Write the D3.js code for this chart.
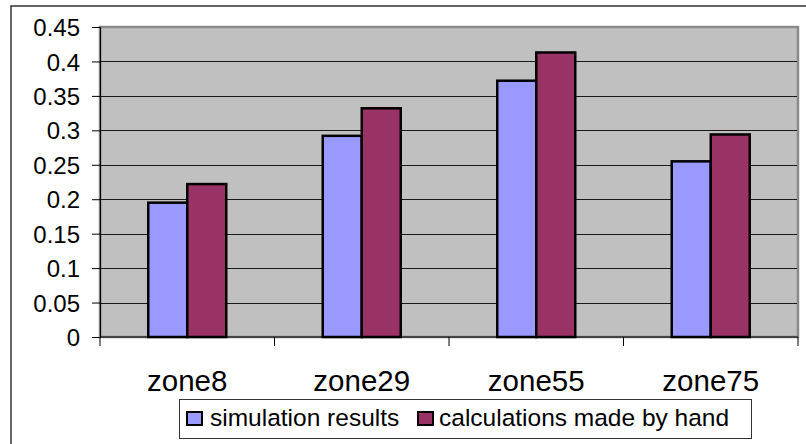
<!DOCTYPE html>
<html>
<head>
<meta charset="utf-8">
<script src="https://cdn.jsdelivr.net/npm/d3@7"></script>
<style>
  html, body { margin: 0; padding: 0; background: #fff; }
  svg { display: block; }
  text { font-family: "Liberation Sans", Arial, sans-serif; fill: #000; }
</style>
</head>
<body>
<svg id="chart" width="806" height="444"></svg>
<script>
// Zone comparison: simulated values vs. values calculated by hand
const categories = ["zone8", "zone29", "zone55", "zone75"];
const seriesNames = ["simulation results", "calculations made by hand"];
const simulationResults = [0.195, 0.292, 0.372, 0.255];
const handCalculations = [0.222, 0.332, 0.413, 0.294];
const yTicks = [0, 0.05, 0.1, 0.15, 0.2, 0.25, 0.3, 0.35, 0.4, 0.45];
const seriesColors = ["#9999ff", "#993366"];

const svg = d3.select("#chart");

// outer chart frame
svg.append("rect")
  .attr("x", 11).attr("y", 6)
  .attr("width", 800).attr("height", 450)
  .attr("fill", "#fff").attr("stroke", "#333").attr("stroke-width", 1.5);

const plot = { left: 100, right: 798, top: 27, bottom: 337 };

const y = d3.scaleLinear().domain([0, 0.45]).range([plot.bottom, plot.top]);
const x0 = d3.scaleBand().domain(categories).range([plot.left, plot.right]).paddingInner(0).paddingOuter(0);
const x1 = d3.scaleBand().domain(seriesNames).range([0, x0.bandwidth()]).paddingInner(0).paddingOuter(1.237);

// plot area background
svg.append("rect")
  .attr("x", plot.left).attr("y", plot.top)
  .attr("width", plot.right - plot.left).attr("height", plot.bottom - plot.top)
  .attr("fill", "#c0c0c0").attr("stroke", "#8a8a8a").attr("stroke-width", 2.5);

// horizontal gridlines
svg.append("g").selectAll("line")
  .data(yTicks.filter(d => d > 0 && d < 0.45))
  .join("line")
  .attr("x1", plot.left).attr("x2", plot.right - 1)
  .attr("y1", d => Math.round(y(d)) + 0.5).attr("y2", d => Math.round(y(d)) + 0.5)
  .attr("stroke", "#1a1a1a").attr("stroke-width", 1);

// bars
const rows = categories.map((c, i) => ({ cat: c, vals: [simulationResults[i], handCalculations[i]] }));
svg.append("g").selectAll("g")
  .data(rows)
  .join("g")
  .attr("transform", d => `translate(${x0(d.cat)},0)`)
  .selectAll("rect")
  .data(d => d.vals.map((v, j) => ({ name: seriesNames[j], v, j })))
  .join("rect")
  .attr("x", d => x1(d.name))
  .attr("y", d => y(d.v))
  .attr("width", x1.bandwidth())
  .attr("height", d => y(0) - y(d.v))
  .attr("fill", d => seriesColors[d.j])
  .attr("stroke", "#000").attr("stroke-width", 2.5);

// y axis
const yAxis = d3.axisLeft(y).tickValues(yTicks).tickSize(8).tickPadding(12)
  .tickFormat(d => String(+d.toFixed(2)));
const gy = svg.append("g").attr("transform", `translate(${plot.left},0)`).call(yAxis);
gy.select(".domain").attr("stroke", "#000").attr("stroke-width", 1.2);
gy.selectAll(".tick line").attr("stroke", "#000");
gy.selectAll(".tick text").style("font-size", "24px").attr("dy", "0.36em")
  .attr("font-family", null);

// x axis: baseline plus ticks at category boundaries
const gx = svg.append("g");
gx.append("line")
  .attr("x1", plot.left).attr("x2", plot.right)
  .attr("y1", plot.bottom).attr("y2", plot.bottom)
  .attr("stroke", "#000").attr("stroke-width", 1.2);
const boundaries = categories.map(c => x0(c)).concat([x0(categories[categories.length - 1]) + x0.bandwidth()]);
gx.selectAll("line.tk")
  .data(boundaries)
  .join("line").attr("class", "tk")
  .attr("x1", d => d).attr("x2", d => d)
  .attr("y1", plot.bottom).attr("y2", plot.bottom + 9)
  .attr("stroke", "#000").attr("stroke-width", 1);
gx.selectAll("text")
  .data(categories)
  .join("text")
  .attr("x", d => x0(d) + x0.bandwidth() / 2)
  .attr("y", 391)
  .attr("text-anchor", "middle")
  .style("font-size", "29.5px")
  .text(d => d);

// legend
const legend = svg.append("g");
legend.append("rect")
  .attr("x", 179.5).attr("y", 399.5).attr("width", 572).attr("height", 39)
  .attr("fill", "#fff").attr("stroke", "#333").attr("stroke-width", 1);
const legendItems = [
  { name: seriesNames[0], color: seriesColors[0], sx: 187, tx: 210 },
  { name: seriesNames[1], color: seriesColors[1], sx: 418, tx: 439 }
];
legend.selectAll("g")
  .data(legendItems)
  .join("g")
  .each(function(d) {
    const g = d3.select(this);
    g.append("rect")
      .attr("x", d.sx).attr("y", 412).attr("width", 15).attr("height", 13)
      .attr("fill", d.color).attr("stroke", "#000").attr("stroke-width", 2);
    g.append("text")
      .attr("x", d.tx).attr("y", 426)
      .style("font-size", "24.5px")
      .text(d.name);
  });
</script>
</body>
</html>
